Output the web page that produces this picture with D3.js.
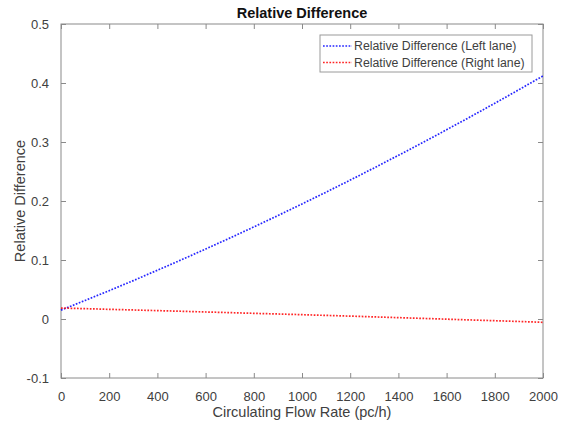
<!DOCTYPE html>
<html>
<head>
<meta charset="utf-8">
<script src="https://cdn.jsdelivr.net/npm/d3@7"></script>
<style>
  html, body { margin: 0; padding: 0; background: #fff; }
  svg { display: block; }
  text { font-family: "Liberation Sans", Arial, Helvetica, sans-serif; }
</style>
</head>
<body>
<svg id="chart" width="565" height="424"></svg>
<script>
// Circulating flow rate (pc/h)
const flowRates = [0, 100, 200, 300, 400, 500, 600, 700, 800, 900, 1000,
                   1100, 1200, 1300, 1400, 1500, 1600, 1700, 1800, 1900, 2000];
// Relative difference, left lane
const leftLane = [0.0150, 0.0315, 0.0480, 0.0651, 0.0826, 0.1004, 0.1186, 0.1371, 0.1560, 0.1753, 0.1950,
                  0.2150, 0.2354, 0.2562, 0.2774, 0.2989, 0.3208, 0.3430, 0.3656, 0.3886, 0.4120];
// Relative difference, right lane
const rightLane = [0.0186, 0.0175, 0.0164, 0.0153, 0.0142, 0.0131, 0.0119, 0.0108, 0.0096, 0.0085, 0.0073,
                   0.0061, 0.0049, 0.0036, 0.0023, 0.0010, -0.0003, -0.0016, -0.0029, -0.0042, -0.0056];

const xTicks = [0, 200, 400, 600, 800, 1000, 1200, 1400, 1600, 1800, 2000];
const yTicks = [-0.1, 0, 0.1, 0.2, 0.3, 0.4, 0.5];
const yTickLabels = ["-0.1", "0", "0.1", "0.2", "0.3", "0.4", "0.5"];

const seriesNames = ["Relative Difference (Left lane)", "Relative Difference (Right lane)"];
const seriesColors = ["#0000ff", "#ff0000"];

const svg = d3.select("#chart");
const plot = { left: 61, right: 543, top: 24, bottom: 378 };

const x = d3.scaleLinear().domain([0, 2000]).range([plot.left, plot.right]);
const y = d3.scaleLinear().domain([-0.1, 0.5]).range([plot.bottom, plot.top]);

const axisColor = "#8a8a8a";
const textColor = "#404040";
const tickLen = 5;

// Plot box
svg.append("rect")
  .attr("x", plot.left).attr("y", plot.top)
  .attr("width", plot.right - plot.left).attr("height", plot.bottom - plot.top)
  .attr("fill", "#fff").attr("stroke", axisColor).attr("stroke-width", 1);

// Axes with inward ticks on all four sides
function styleAxis(g) {
  g.select(".domain").remove();
  g.selectAll(".tick line").attr("stroke", axisColor);
  g.selectAll(".tick text")
    .attr("fill", textColor)
    .attr("font-size", "13px")
    .attr("font-family", "'Liberation Sans', Arial, sans-serif");
}

const fmtY = (d, i) => yTickLabels[i];

svg.append("g")
  .attr("transform", `translate(0,${plot.bottom})`)
  .call(d3.axisBottom(x).tickValues(xTicks).tickSize(-tickLen).tickPadding(14).tickFormat(d3.format("d")))
  .call(styleAxis);

svg.append("g")
  .attr("transform", `translate(0,${plot.top})`)
  .call(d3.axisTop(x).tickValues(xTicks).tickSize(-tickLen).tickFormat(""))
  .call(styleAxis);

svg.append("g")
  .attr("transform", `translate(${plot.left},0)`)
  .call(d3.axisLeft(y).tickValues(yTicks).tickSize(-tickLen).tickPadding(12).tickFormat(fmtY))
  .call(styleAxis);

svg.append("g")
  .attr("transform", `translate(${plot.right},0)`)
  .call(d3.axisRight(y).tickValues(yTicks).tickSize(-tickLen).tickFormat(""))
  .call(styleAxis);

// Dotted series lines
const line = d3.line().x((d, i) => x(flowRates[i])).y(d => y(d));
[leftLane, rightLane].forEach((vals, k) => {
  svg.append("path")
    .datum(vals)
    .attr("d", line)
    .attr("fill", "none")
    .attr("stroke", seriesColors[k])
    .attr("stroke-width", 1.7)
    .attr("stroke-dasharray", "1.7,1.5")
    .attr("opacity", 0.85);
});

// Title and axis labels
svg.append("text")
  .attr("x", (plot.left + plot.right) / 2).attr("y", 18)
  .attr("text-anchor", "middle")
  .attr("font-size", "14.5px").attr("font-weight", "bold")
  .attr("fill", "#111")
  .text("Relative Difference");

svg.append("text")
  .attr("x", (plot.left + plot.right) / 2).attr("y", 417)
  .attr("text-anchor", "middle")
  .attr("font-size", "14.5px")
  .attr("fill", textColor)
  .text("Circulating Flow Rate (pc/h)");

svg.append("text")
  .attr("transform", `translate(25,${(plot.top + plot.bottom) / 2}) rotate(-90)`)
  .attr("text-anchor", "middle")
  .attr("font-size", "14.5px")
  .attr("fill", textColor)
  .text("Relative Difference");

// Legend
const legend = svg.append("g").attr("transform", "translate(320,35)");
legend.append("rect")
  .attr("x", 0).attr("y", 0).attr("width", 212).attr("height", 37)
  .attr("fill", "#fff").attr("stroke", "#9a9a9a").attr("stroke-width", 1);
seriesNames.forEach((name, k) => {
  const cy = 11 + k * 16.5;
  legend.append("line")
    .attr("x1", 3).attr("x2", 32).attr("y1", cy).attr("y2", cy)
    .attr("stroke", seriesColors[k]).attr("stroke-width", 1.7)
    .attr("stroke-dasharray", "1.7,1.5").attr("opacity", 0.85);
  legend.append("text")
    .attr("x", 34).attr("y", cy + 4.3)
    .attr("font-size", "12.3px")
    .attr("fill", textColor)
    .text(name);
});
</script>
</body>
</html>
